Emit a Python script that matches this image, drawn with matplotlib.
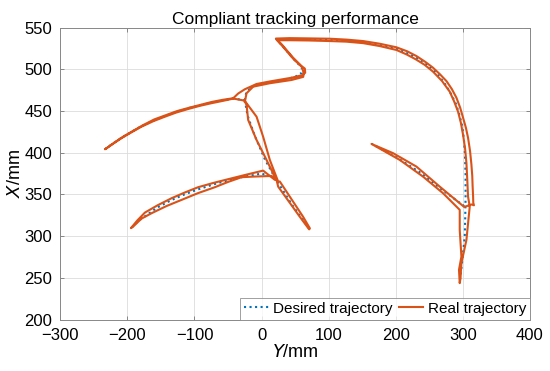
import numpy as np
import matplotlib
matplotlib.use('Agg')
import matplotlib.pyplot as plt

plt.rcParams['font.family'] = ['Liberation Sans', 'DejaVu Sans']

# desired trajectory (Y/mm, X/mm)
des_arc_y = [-233, -221, -208.6, -194, -178.8, -161, -144, -127, -109, -92, -75, -58, -42, -25]
des_arc_x = [404.5, 411.5, 418, 425, 432, 438.5, 444, 449, 453.5, 457, 460, 463, 465, 463]

des_top_y = [-25, -23, -15, 0, 30, 50, 60, 60, 45, 28, 22, 42, 70, 101.7, 127, 151, 176,
             201, 217, 231, 244, 255.5, 266, 275.5, 283, 290, 295, 299, 301.5, 303, 304,
             304, 303.5, 302.8, 299, 295.3]
des_top_x = [463, 472, 479, 483, 487, 491, 496, 502, 515, 531, 536, 536.5, 536, 535.5,
             534.5, 532.5, 529.3, 525, 519.5, 514, 507.5, 499.5, 490.5, 480, 469.5, 458,
             445, 432, 416, 400, 374, 347, 323, 300, 270, 245]

des_diag_y = [302, 270, 235, 200, 164]
des_diag_x = [336, 355, 377, 395, 410.8]

des_down_y = [-25, -21, -10, 5, 20, 45, 71]
des_down_x = [463, 445, 420, 392, 370, 338, 309]

des_loop_y = [20, 0, -25, -50, -72, -95, -115, -135, -155, -170, -184, -194]
des_loop_x = [370, 375, 371.5, 367, 362, 356, 350, 343, 334.5, 326, 318, 310]

# real trajectory
real_arc_y = [-25, -42, -58, -75, -92, -109, -127, -144, -161, -179, -194, -209, -221,
              -233.4, -230, -218, -206, -191, -177, -160, -143, -126, -108, -91, -74,
              -58, -42.3]
real_arc_x = [462.5, 465, 462.2, 459.4, 456.3, 452.6, 448.3, 443.3, 438, 431.3, 424.5,
              417.4, 411, 404.2, 406, 413, 419.5, 426.5, 433, 440, 445, 450, 454, 457.5,
              461, 463.5, 465.4]

real_top_y = [-42.3, -35, -24.9, -7.5, 12, 44.6, 60, 65, 64.5, 59.5, 47, 30, 21.3, 42,
              70, 101.7, 127, 151.3, 176, 201, 217, 230.8, 244, 255.5, 266, 275.5, 283.5,
              290.4, 296, 300.3, 304.5, 307.7, 310.7, 312.7, 314, 314.5, 315.2, 315.5,
              316.5, 313, 302, 265.5, 230.8, 196, 163.8, 206, 240.6, 270.4, 295.3, 295.3,
              297.8, 294.2, 295.3, 296.5, 297.8, 305.3, 310.2, 307.7, 306.6, 305.3, 303.3,
              300.3, 297, 292.8, 287, 280.4, 269, 255.5, 243, 230, 216, 201, 176, 151.3,
              126, 101.7, 70, 42, 23, 31, 48, 60, 63, 62, 44.6, 12.3, -12.5, -22.4, -24.9]
real_top_x = [465.4, 471, 476.2, 482.5, 485.5, 490, 493, 496, 501, 504, 514, 530, 537,
              537.5, 537.2, 536.8, 535.7, 534, 530.8, 526.5, 521.7, 516, 509, 502, 494,
              486, 476.5, 466, 454, 442, 430, 418, 402, 386, 372, 360, 348, 340, 337, 338,
              335, 359.4, 383.4, 399.5, 410.6, 391.4, 371.4, 351.5, 331.5, 307.5, 275.5,
              259.6, 243.6, 250, 267.6, 295.5, 335.4, 347.4, 367, 387.5, 405, 421.4, 436,
              449.3, 461.5, 473.3, 486, 497.3, 505.5, 512, 518, 523.3, 528, 531.5, 533.3,
              534, 534.7, 535, 535, 528, 512, 503, 495, 491, 487.3, 483.4, 479.3, 471.4,
              461.3]

real_down_y = [-24.9, -22.4, -20, -7.5, 7.4, 17.3, 22.3, 19.8, 2.3, -24, -49.8, -72,
               -94.5, -114, -134.1, -155, -173.8, -185, -194.7, -191.3, -179, -163.9,
               -142, -119.2, -95, -69.6, -50, -29.8, -12.5, 14.9, 22.3, 24.7, 57, 70.9,
               72, 61.9, 27.2, 24.7, 12.3, 2.3, -7.5, -22.4, -25]
real_down_x = [461.3, 457.4, 439.4, 415.4, 391.4, 375, 367.5, 367.5, 378.6, 373.5, 368.3,
               363.8, 358.7, 352.5, 345.5, 337, 328.3, 319, 309.6, 311.5, 321, 327.5, 336,
               343.5, 351.5, 358.7, 365, 370.7, 371.4, 372.2, 367.5, 359.4, 323.2, 308.1,
               309.3, 323.2, 365.5, 365.5, 391.4, 419.3, 443.3, 459.4, 462.5]

blue = '#0072BD'
orange = '#D95319'

fig, ax = plt.subplots(figsize=(5.5, 3.71), dpi=100)
fig.subplots_adjust(left=0.1096, right=0.9636, top=0.9253, bottom=0.1388)

des = [(des_arc_y, des_arc_x), (des_top_y, des_top_x), (des_diag_y, des_diag_x),
       (des_down_y, des_down_x), (des_loop_y, des_loop_x)]
for i, (yy, xx) in enumerate(des):
    ax.plot(yy, xx, ':', color=blue, lw=1.5, label='Desired trajectory' if i == 0 else None)

real = [(real_arc_y, real_arc_x), (real_top_y, real_top_x), (real_down_y, real_down_x)]
for i, (yy, xx) in enumerate(real):
    ax.plot(yy, xx, '-', color=orange, lw=1.5, solid_joinstyle='round',
            label='Real trajectory' if i == 0 else None)

ax.set_xlim(-300, 400)
ax.set_ylim(200, 550)
ax.set_xticks(np.arange(-300, 401, 100))
ax.set_yticks(np.arange(200, 551, 50))
ax.grid(True, color='#dcdcdc', lw=0.6)
ax.tick_params(direction='in', top=True, right=True, labelsize=12, length=3,
               color='#777777', width=0.6)
ax.tick_params(axis='x', pad=6)
ax.tick_params(axis='y', pad=6)
for s in ax.spines.values():
    s.set_color('#888888')
    s.set_linewidth(0.7)

ax.set_xlabel(r'$\it{Y}$/mm', fontsize=13, labelpad=1)
ax.set_ylabel(r'$\it{X}$/mm', fontsize=13, labelpad=0)
ax.set_title('Compliant tracking performance', fontsize=12.5, pad=3)

leg = ax.legend(loc='lower right', ncol=2, fontsize=11, frameon=True, fancybox=False,
                borderaxespad=0, handlelength=1.6, handletextpad=0.3, columnspacing=0.4,
                borderpad=0.25)
leg.get_frame().set_edgecolor('#888888')
leg.get_frame().set_linewidth(0.7)

fig.savefig('out.png', dpi=100)
